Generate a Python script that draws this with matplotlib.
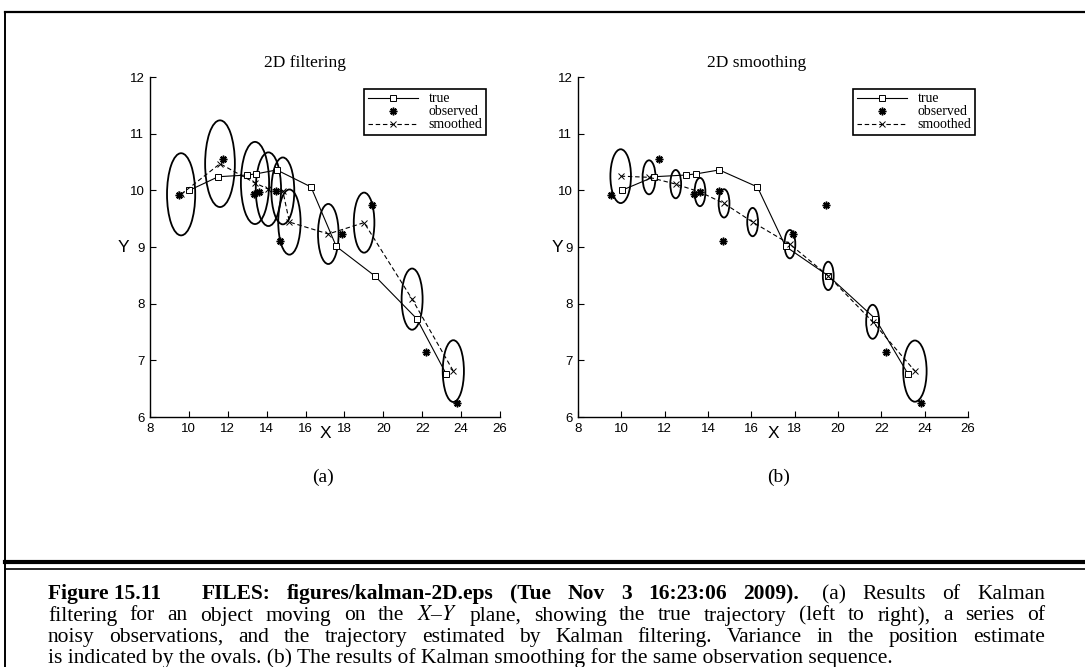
import matplotlib
matplotlib.use("Agg")
import matplotlib.pyplot as plt
from matplotlib.patches import Ellipse
from matplotlib.lines import Line2D

W, H = 1085, 667

# --- données ---
true_x = [10.02, 11.51, 12.97, 13.45, 14.52, 16.28, 17.58, 19.56, 21.73, 23.23]
true_y = [10.00, 10.24, 10.27, 10.29, 10.36, 10.06, 9.01, 8.49, 7.73, 6.76]

obs_x = [9.51, 11.76, 13.35, 13.62, 14.49, 14.69, 17.90, 19.44, 22.20, 23.81]
obs_y = [9.91, 10.56, 9.93, 9.97, 9.99, 9.11, 9.23, 9.74, 7.15, 6.25]

filt_x = [9.60, 11.60, 13.40, 14.09, 14.83, 15.17, 17.17, 19.01, 21.48, 23.60]
filt_y = [9.93, 10.47, 10.13, 10.02, 9.99, 9.44, 9.23, 9.43, 8.08, 6.81]
filt_d = [1.45, 1.53, 1.45, 1.30, 1.18, 1.15, 1.06, 1.06, 1.08, 1.09]

smooth_x = [9.97, 11.28, 12.51, 13.63, 14.74, 16.06, 17.78, 19.55, 21.60, 23.55]
smooth_y = [10.25, 10.23, 10.11, 9.97, 9.77, 9.44, 9.05, 8.49, 7.68, 6.81]
smooth_d = [0.95, 0.60, 0.50, 0.50, 0.50, 0.50, 0.50, 0.50, 0.60, 1.08]

x_ticks = list(range(8, 27, 2))
y_ticks = list(range(6, 13))

titles = ["2D filtering", "2D smoothing"]
sub_labels = ["(a)", "(b)"]
legend_labels = ["true", "observed", "smoothed"]

caption_head = "Figure 15.11"
caption_files = "FILES: figures/kalman-2D.eps (Tue Nov 3 16:23:06 2009)."
caption_lines = [
    "(a) Results of Kalman",
    "filtering for an object moving on the $X$–$Y$ plane, showing the true trajectory (left to right), a series of",
    "noisy observations, and the trajectory estimated by Kalman filtering. Variance in the position estimate",
    "is indicated by the ovals. (b) The results of Kalman smoothing for the same observation sequence.",
]

plt.rcParams['mathtext.fontset'] = 'stix'
SERIF = 'Liberation Serif'
SANS = 'Liberation Sans'
FS_CAP = 15.5

fig = plt.figure(figsize=(W / 100, H / 100), dpi=100, facecolor='white')
renderer = fig.canvas.get_renderer()


def px(x, y):
    # pixels de l'image -> fractions de la figure
    return x / W, 1 - y / H


#%% cadres autour de la figure
def trait(x0, y0, x1, y1, lw):
    a, b = px(x0, y0)
    c, d = px(x1, y1)
    fig.add_artist(Line2D([a, c], [b, d], color='k', lw=lw, transform=fig.transFigure))

trait(5, 11.5, W, 11.5, 1.6)
trait(5, 11.5, 5, H, 1.4)
trait(5, 562, W, 562, 3.0)
trait(5, 569, W, 569, 1.2)

#%% les deux panneaux
panneaux = [
    dict(rect=(150, 350), ex=filt_x, ey=filt_y, ed=filt_d, title_x=305, lab_x=323,
         ylab_x=-0.077, leg_right=486),
    dict(rect=(578, 390), ex=smooth_x, ey=smooth_y, ed=smooth_d, title_x=757, lab_x=779,
         ylab_x=-0.052, leg_right=975),
]

for i, p in enumerate(panneaux):
    x0, w = p["rect"]
    l, b = px(x0, 417)
    ax = fig.add_axes([l, b, w / W, 340 / H])
    ax.set_xlim(8, 26)
    ax.set_ylim(6, 12)
    ax.set_xticks(x_ticks)
    ax.set_yticks(y_ticks)
    ax.spines['top'].set_visible(False)
    ax.spines['right'].set_visible(False)
    for s in ['left', 'bottom']:
        ax.spines[s].set_linewidth(1.0)
    ax.tick_params(direction='in', length=4, width=0.8, labelsize=9.5, pad=4)
    for t in ax.get_xticklabels() + ax.get_yticklabels():
        t.set_family(SANS)

    # ellipses de variance
    for cx, cy, d in zip(p["ex"], p["ey"], p["ed"]):
        ax.add_patch(Ellipse((cx, cy), d, d, fill=False, ec='k', lw=1.3, clip_on=False))

    l1, = ax.plot(true_x, true_y, '-', color='k', lw=0.8, marker='s', ms=4.5,
                  mfc='white', mec='k', mew=0.7, clip_on=False)
    l2, = ax.plot(obs_x, obs_y, ls='none', color='k', marker=(8, 2, 0), ms=5.5, mew=1.1,
                  clip_on=False)
    l3, = ax.plot(p["ex"], p["ey"], color='k', lw=0.8, ls='--', dashes=(4, 2.5),
                  marker='x', ms=4, mew=0.7, clip_on=False)

    ax.set_xlabel("X", family=SANS, fontsize=12.5)
    ax.xaxis.set_label_coords(0.5, -0.05)
    ax.xaxis.label.set_va('center')
    ax.set_ylabel("Y", family=SANS, fontsize=12.5, rotation=0)
    ax.yaxis.set_label_coords(p["ylab_x"], 0.5)
    ax.yaxis.label.set_va('center')
    ax.yaxis.label.set_ha('center')

    a, bb = px(p["leg_right"], 89)
    leg = ax.legend([l1, l2, l3], legend_labels, loc='upper right',
                    bbox_to_anchor=(a, bb), bbox_transform=fig.transFigure,
                    prop={'family': SERIF, 'size': 10}, fancybox=False,
                    edgecolor='k', framealpha=1, handlelength=3.6, handletextpad=0.8,
                    labelspacing=0.0, borderpad=0.25, borderaxespad=0, numpoints=1)
    leg.get_frame().set_linewidth(1.2)

    tx, ty = px(p["title_x"], 63)
    fig.text(tx, ty, titles[i], family=SERIF, fontsize=12.5, ha='center', va='center')
    sx, sy = px(p["lab_x"], 477)
    fig.text(sx, sy, sub_labels[i], family=SERIF, fontsize=14, ha='center', va='center')

#%% légende de la figure, justifiée mot par mot
def ligne(tokens, y, x0, x1=None):
    # tokens : (mot, graisse, poids de l'espace avant)
    objs = [fig.text(0, 0, s, family=SERIF, fontsize=FS_CAP, weight=wt,
                     ha='left', va='baseline') for s, wt, g in tokens]
    larg = [o.get_window_extent(renderer).width for o in objs]
    poids = sum(g for _, _, g in tokens[1:])
    if x1 is None:
        esp = 0.25 * FS_CAP * 100 / 72
    else:
        esp = (x1 - x0 - sum(larg)) / poids
    x = x0
    for k, (o, wd) in enumerate(zip(objs, larg)):
        if k > 0:
            x += tokens[k][2] * esp
        o.set_position(px(x, y))
        x += wd

x_gauche, x_droite = 48, 1045
baselines = [599, 620.5, 642, 663]

tok = [(caption_head, 'bold', 0)]
tok += [(m, 'bold', 2.5 if k == 0 else 1) for k, m in enumerate(caption_files.split())]
tok += [(m, 'normal', 1.4 if k == 0 else 1) for k, m in enumerate(caption_lines[0].split())]
ligne(tok, baselines[0], x_gauche, x_droite)

for k in (1, 2):
    mots = caption_lines[k].split()
    ligne([(m, 'normal', 1) for m in mots], baselines[k], x_gauche, x_droite)

a, b = px(x_gauche, baselines[3])
fig.text(a, b, caption_lines[3], family=SERIF, fontsize=FS_CAP, ha='left', va='baseline')

fig.savefig("out.png", dpi=100, facecolor='white')
